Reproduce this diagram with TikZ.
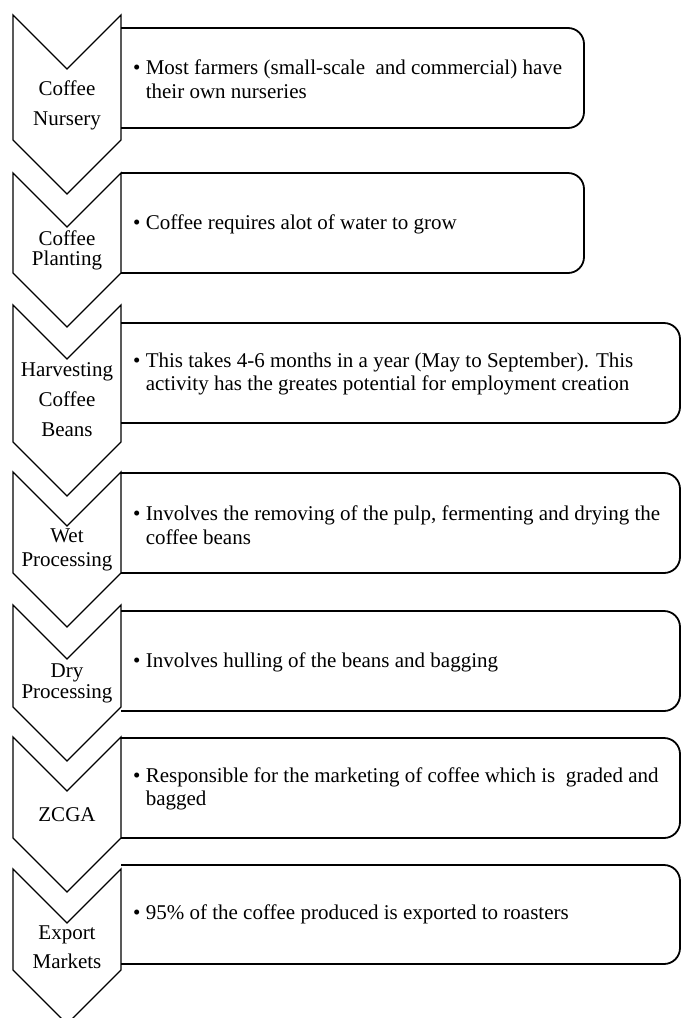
\documentclass[tikz,border=0pt]{standalone}
\usepackage{fontspec}
\setmainfont{Liberation Serif}
\begin{document}
\begin{tikzpicture}[x=1pt,y=-1pt,
  chev/.style={draw=black,line width=1.3pt,line join=miter},
  boxl/.style={draw=black,line width=1.8pt,rounded corners=16pt},
  lab/.style={align=center,inner sep=0pt},
  txt/.style={anchor=west,align=left,inner sep=0pt,font=\fontsize{21}{23.5}\selectfont}]
\useasboundingbox (0,0) rectangle (681,1018);
\clip (0,0) rectangle (681,1018);
% chevrons
\draw[chev] (13,15) -- (67,69) -- (121,15) -- (121,140) -- (67,194) -- (13,140) -- cycle;
\draw[chev] (13,173) -- (67,227) -- (121,173) -- (121,273) -- (67,327) -- (13,273) -- cycle;
\draw[chev] (13,305) -- (67,359) -- (121,305) -- (121,442) -- (67,496) -- (13,442) -- cycle;
\draw[chev] (13,472) -- (67,526) -- (121,472) -- (121,573) -- (67,627) -- (13,573) -- cycle;
\draw[chev] (13,605) -- (67,659) -- (121,605) -- (121,707) -- (67,761) -- (13,707) -- cycle;
\draw[chev] (13,737) -- (67,791) -- (121,737) -- (121,838) -- (67,892) -- (13,838) -- cycle;
\draw[chev] (13,869) -- (67,923) -- (121,869) -- (121,970) -- (67,1024) -- (13,970) -- cycle;
% boxes
\draw[boxl] (121,28) -- (584,28) -- (584,128) -- (121,128);
\draw[boxl] (121,173) -- (584,173) -- (584,273) -- (121,273);
\draw[boxl] (121,323) -- (680,323) -- (680,423) -- (121,423);
\draw[boxl] (121,473) -- (680,473) -- (680,573) -- (121,573);
\draw[boxl] (121,611) -- (680,611) -- (680,711) -- (121,711);
\draw[boxl] (121,738) -- (680,738) -- (680,838) -- (121,838);
\draw[boxl] (121,865) -- (680,865) -- (680,964) -- (121,964);
% chevron labels
\node[lab,font=\fontsize{21}{30}\selectfont] (c1) at (67,105) {Coffee\\Nursery};
\node[lab,font=\fontsize{21}{20}\selectfont] (c2) at (67,250) {Coffee\\Planting};
\node[lab,font=\fontsize{21}{30}\selectfont] (c3) at (67,400) {Harvesting\\Coffee\\Beans};
\node[lab,font=\fontsize{21}{24}\selectfont] (c4) at (67,550) {Wet\\Processing};
\node[lab,font=\fontsize{21}{21}\selectfont] (c5) at (67,683) {Dry\\Processing};
\node[lab,font=\fontsize{21}{24}\selectfont] (c6) at (67,815) {ZCGA};
\node[lab,font=\fontsize{21}{29}\selectfont] (c7) at (67,947) {Export\\Markets};
% box texts
\node[txt] (t1) at (133,79) {\textbullet\ Most farmers (small-scale\ \ and commercial) have\\\phantom{\textbullet\ }their own nurseries};
\node[txt] (t2) at (133,224) {\textbullet\ Coffee requires alot of water to grow};
\node[txt] (t3) at (133,374) {\textbullet\ This takes 4-6 months in a year (May to September). This\\\phantom{\textbullet\ }activity has the greates potential for employment creation};
\node[txt] (t4) at (133,525) {\textbullet\ Involves the removing of the pulp, fermenting and drying the\\\phantom{\textbullet\ }coffee beans};
\node[txt] (t5) at (133,662) {\textbullet\ Involves hulling of the beans and bagging};
\node[txt] (t6) at (133,789) {\textbullet\ Responsible for the marketing of coffee which is\ \ graded and\\\phantom{\textbullet\ }bagged};
\node[txt] (t7) at (133,914) {\textbullet\ 95\% of the coffee produced is exported to roasters};
\end{tikzpicture}
\end{document}
